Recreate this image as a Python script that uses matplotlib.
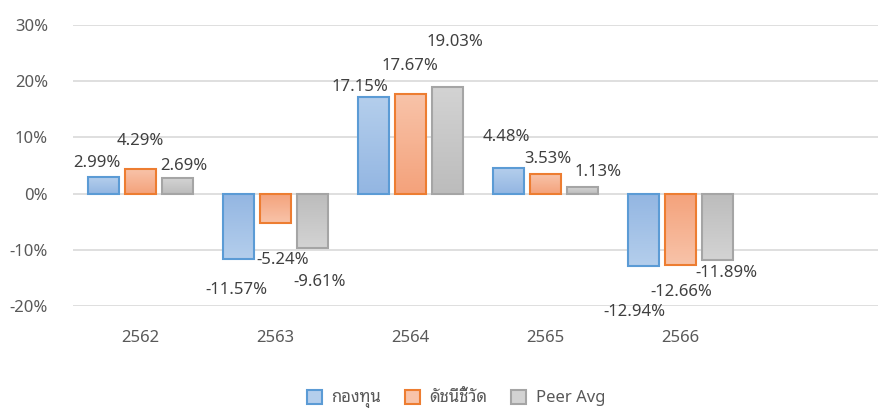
import numpy as np
import matplotlib
matplotlib.use("Agg")
import matplotlib.pyplot as plt
from matplotlib.colors import LinearSegmentedColormap
from matplotlib.patches import Patch

years = ["2562", "2563", "2564", "2565", "2566"]
series_names = ["กองทุน", "ดัชนีชี้วัด", "Peer Avg"]
fund = [2.99, -11.57, 17.15, 4.48, -12.94]
benchmark = [4.29, -5.24, 17.67, 3.53, -12.66]
peer_avg = [2.69, -9.61, 19.03, 1.13, -11.89]

plt.rcParams['font.family'] = ['Noto Sans', 'Noto Sans Thai Looped', 'DejaVu Sans']

edge_colors = ["#5B9BD5", "#ED7D31", "#A5A5A5"]
light_colors = ["#B4CEEC", "#F8C3A9", "#D3D3D3"]
dark_colors = ["#93B6E2", "#F4A27B", "#BCBCBC"]

# label offsets in pixels from the bar end (dx right, dy down)
label_offsets = [
    [(-6, -14), (-2, 31), (-13, -10), (-2, -31), (-9, 46)],
    [(0, -28), (7, 37), (-1, -28), (2, -15), (1, 27)],
    [(6, -12), (7, 34), (7, -45), (15, -15), (9, 13)],
]

fig = plt.figure(figsize=(8.79, 4.12), dpi=100)
ax = fig.add_axes([73 / 879, 1 - 306 / 412, 806 / 879, 281 / 412])

x = np.arange(len(years))
width = 0.23
step = 0.275
data = [fund, benchmark, peer_avg]

for j, vals in enumerate(data):
    pos = x + (j - 1) * step
    bars = ax.bar(pos, vals, width, facecolor="none", edgecolor=edge_colors[j],
                  linewidth=1.5, zorder=3)
    cmap = LinearSegmentedColormap.from_list("g", [dark_colors[j], light_colors[j]])
    for b, v in zip(bars, vals):
        # dark at the axis, light at the far end
        grad = np.linspace(0, 1, 64).reshape(-1, 1)
        if v < 0:
            grad = grad[::-1]
        x0 = b.get_x()
        x1 = x0 + b.get_width()
        im = ax.imshow(grad, cmap=cmap, aspect="auto", origin="lower",
                       extent=(x0, x1, min(0, v), max(0, v)), zorder=2)
        im.set_clip_path(b)
    for k, (b, v) in enumerate(zip(bars, vals)):
        dx, dy = label_offsets[j][k]
        ax.annotate(f"{v:.2f}%", xy=(b.get_x() + b.get_width() / 2, v),
                    xytext=(dx * 0.72, -dy * 0.72), textcoords="offset points",
                    ha="center", va="center", fontsize=12, color="#404040")

ax.set_xlim(-0.5, -0.5 + 806 / 135)
ax.set_ylim(-20, 30)
ax.set_yticks([-20, -10, 0, 10, 20, 30])
ax.set_yticklabels([f"{t}%" for t in [-20, -10, 0, 10, 20, 30]])
ax.set_xticks(x)
ax.set_xticklabels(years)
ax.tick_params(axis="both", length=0, labelsize=12, labelcolor="#595959")
ax.tick_params(axis="y", pad=18)
ax.tick_params(axis="x", pad=17)
ax.grid(axis="y", color="#D9D9D9", linewidth=1.2, zorder=0)
ax.set_axisbelow(True)
for s in ax.spines.values():
    s.set_visible(False)

handles = [Patch(facecolor=light_colors[j], edgecolor=edge_colors[j], linewidth=1.5)
           for j in range(3)]
fig.legend(handles, series_names, loc="center", bbox_to_anchor=(456 / 879, 1 - 399 / 412),
           ncol=3, frameon=False, fontsize=12, handlelength=0.9, handleheight=0.9,
           columnspacing=1.4, handletextpad=0.6, labelcolor="#595959")

fig.savefig("out.png", dpi=100)
